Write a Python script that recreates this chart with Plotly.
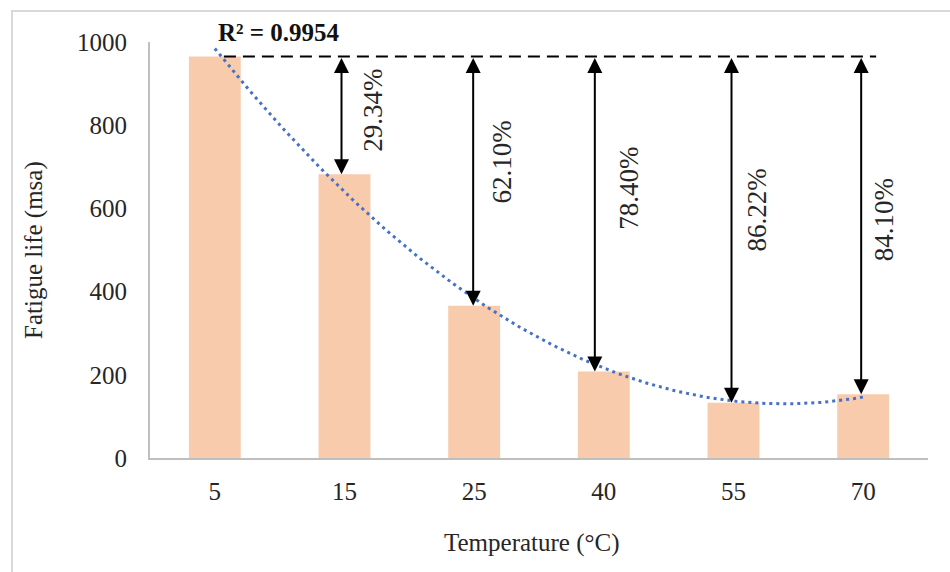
import numpy as np
import plotly.graph_objects as go

# ---- data ----
categories = ["5", "15", "25", "40", "55", "70"]
fatigue_life = [965, 682, 366, 208, 133, 153]
reduction_labels = ["29.34%", "62.10%", "78.40%", "86.22%", "84.10%"]
r2_text = "R² = 0.9954"
y_ticks = [0, 200, 400, 600, 800, 1000]

# label placement (value-axis position, pixel shift) - styling only
label_y = [836, 711, 649, 596, 572]
label_xshift = [29, 28, 25, 24, 21]
arrow_xshift = [-3, -1, -9, -2, -2]

FONT = "Liberation Serif"
idx = np.arange(len(categories))

# 2nd order polynomial trendline (Excel uses index 1..n)
coef = np.polyfit(idx + 1, fatigue_life, 2)
xs = np.linspace(0, len(categories) - 1, 200)
ys = np.polyval(coef, xs + 1)

fig = go.Figure()
fig.add_trace(go.Bar(x=idx, y=fatigue_life, marker=dict(color="#F8CBAD", line=dict(width=0)),
                     width=0.4, showlegend=False, hoverinfo="skip"))
fig.add_trace(go.Scatter(x=xs, y=ys, mode="lines",
                         line=dict(color="#4472C4", width=3, dash="3px,4px"),
                         showlegend=False, hoverinfo="skip"))

ref = fatigue_life[0]
# dashed reference line
fig.add_shape(type="line", xref="x", yref="y", x0=0.07, x1=5.1, y0=ref, y1=ref,
              line=dict(color="black", width=2, dash="12px,7px"))

annotations = []
for i in range(1, len(categories)):
    annotations.append(dict(
        x=idx[i], y=fatigue_life[i], ax=idx[i], ay=ref, axref="x", ayref="y",
        xref="x", yref="y", text="", showarrow=True, arrowside="end+start",
        arrowhead=2, startarrowhead=2, arrowsize=1.5, startarrowsize=1.5,
        arrowwidth=2, arrowcolor="black", standoff=0, startstandoff=0,
        xshift=arrow_xshift[i - 1]))
    annotations.append(dict(
        x=idx[i], y=label_y[i - 1], xref="x", yref="y", text=reduction_labels[i - 1],
        showarrow=False, textangle=-90, xshift=label_xshift[i - 1],
        xanchor="center", yanchor="middle",
        font=dict(family=FONT, size=27, color="#262626")))

# R^2 text
annotations.append(dict(x=(279 - 150) / 778, y=(458 - 33) / 416, xref="paper", yref="paper",
                        xanchor="center", yanchor="middle",
                        text="<b>" + r2_text + "</b>", showarrow=False,
                        font=dict(family=FONT, size=25, color="#111111")))
# axis titles
annotations.append(dict(x=(34 - 150) / 778, y=0.5, xref="paper", yref="paper",
                        xanchor="center", yanchor="middle",
                        text="Fatigue life (msa)", showarrow=False, textangle=-90,
                        font=dict(family=FONT, size=25, color="#262626")))
annotations.append(dict(x=(532 - 150) / 778, y=(458 - 543) / 416, xref="paper", yref="paper",
                        xanchor="center", yanchor="middle",
                        text="Temperature (°C)", showarrow=False,
                        font=dict(family=FONT, size=25, color="#262626")))

# outer light border
fig.add_shape(type="rect", xref="paper", yref="paper",
              x0=(12 - 150) / 778, x1=(960 - 150) / 778,
              y0=(458 - 580) / 416, y1=(458 - 11) / 416,
              line=dict(color="#D9D9D9", width=2), layer="below")

fig.update_layout(
    width=950, height=572,
    margin=dict(l=150, r=22, t=42, b=114),
    paper_bgcolor="white", plot_bgcolor="white",
    annotations=annotations,
    xaxis=dict(range=[-0.5, 5.5], tickmode="array", tickvals=idx, ticktext=categories,
               showgrid=False, zeroline=False, showline=True, linecolor="#BFBFBF", linewidth=2,
               ticks="", ticklabelstandoff=10,
               tickfont=dict(family=FONT, size=25, color="#262626")),
    yaxis=dict(range=[0, 1000], tickmode="array", tickvals=y_ticks,
               showgrid=False, zeroline=False, showline=True, linecolor="#BFBFBF", linewidth=2,
               ticks="", ticklabelstandoff=16,
               tickfont=dict(family=FONT, size=25, color="#262626")),
)

fig.write_html("out.html")
